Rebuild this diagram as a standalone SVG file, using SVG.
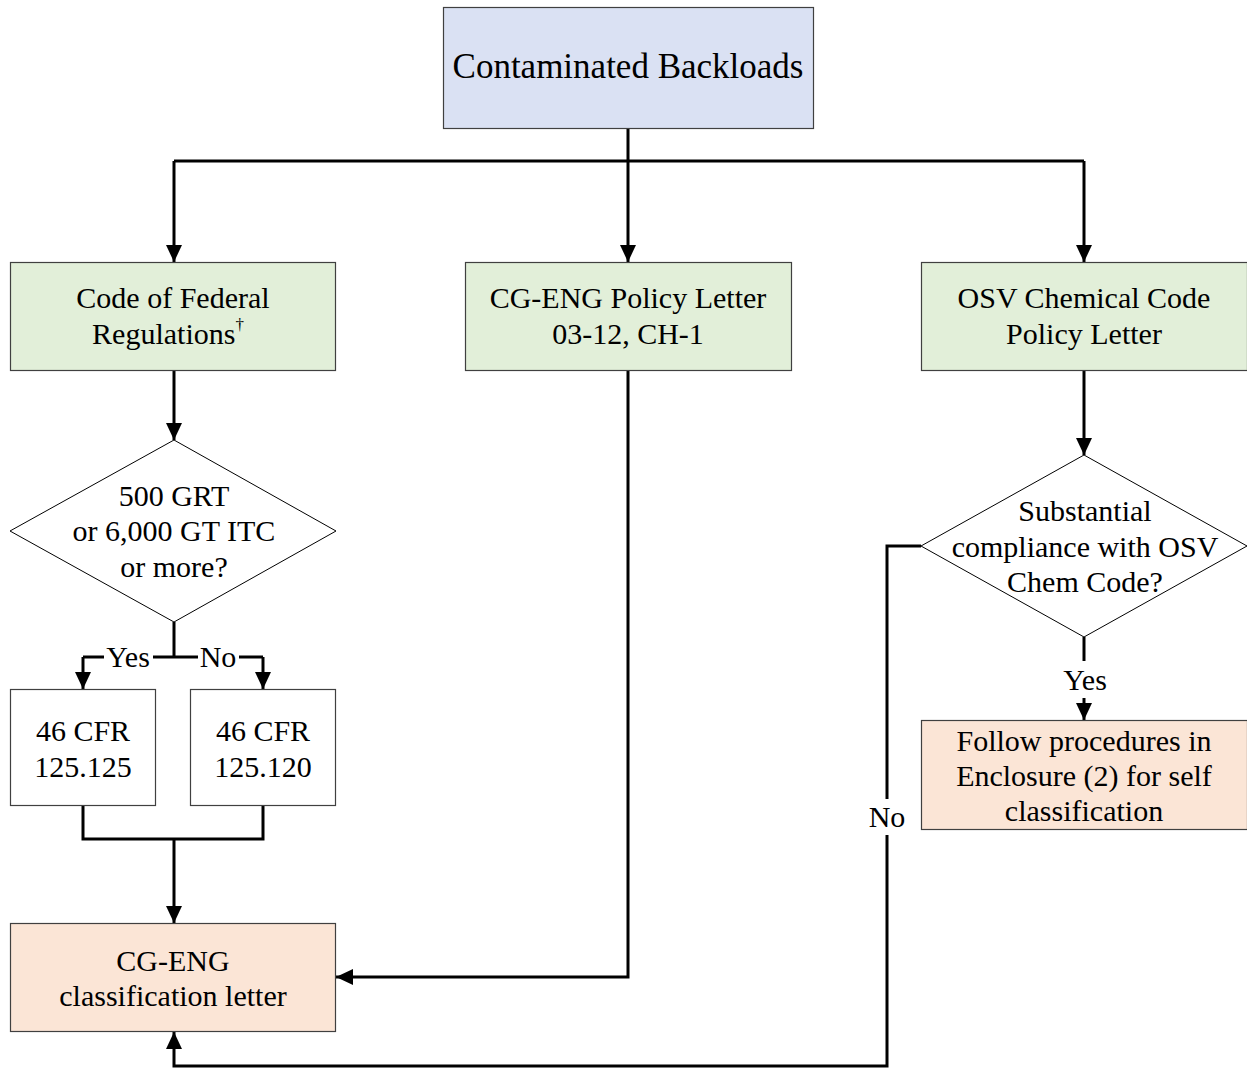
<svg xmlns="http://www.w3.org/2000/svg" width="1247" height="1068" viewBox="0 0 1247 1068">
<style>
text{font-family:"Liberation Serif","Times New Roman",serif;fill:#000;text-anchor:middle}
.big{font-size:35px}
.t{font-size:30px}
.box{stroke:#404040;stroke-width:1.2}
.blue{fill:#dae1f3}
.green{fill:#e2efd9}
.orange{fill:#fbe5d6}
.white{fill:#fff}
.c{fill:none;stroke:#000;stroke-width:3}
</style>
<defs>
<marker id="ah" markerUnits="userSpaceOnUse" markerWidth="18" markerHeight="18" viewBox="0 0 18 18" refX="17" refY="9" orient="auto">
<path d="M0,1 L17,9 L0,17 Z" fill="#000"/>
</marker>
</defs>
<rect width="1247" height="1068" fill="#fff"/>
<g id="connectors">
<path class="c" d="M628,129 V161 M174,161 H1084"/>
<path class="c" d="M174,161 V262" marker-end="url(#ah)"/>
<path class="c" d="M628,161 V262" marker-end="url(#ah)"/>
<path class="c" d="M1084,161 V262" marker-end="url(#ah)"/>
<path class="c" d="M174,371 V440" marker-end="url(#ah)"/>
<path class="c" d="M174,622 V657 M83,657 H263"/>
<path class="c" d="M83,657 V689" marker-end="url(#ah)"/>
<path class="c" d="M263,657 V689" marker-end="url(#ah)"/>
<rect x="104" y="643" width="49" height="28" fill="#fff"/>
<rect x="198" y="643" width="41" height="28" fill="#fff"/>
<text class="t" x="128" y="667">Yes</text>
<text class="t" x="218" y="667">No</text>
<path class="c" d="M83,806 V839 H263 V806 M174,839 V923" marker-end="url(#ah)"/>
<path class="c" d="M628,371 V977 H336" marker-end="url(#ah)"/>
<path class="c" d="M1084,371 V455" marker-end="url(#ah)"/>
<path class="c" d="M1084,637 V661"/>
<text class="t" x="1085" y="690">Yes</text>
<path class="c" d="M1084,698 V720" marker-end="url(#ah)"/>
<path class="c" d="M921,546 H887 V799 M887,835 V1066 H174 V1032" marker-end="url(#ah)"/>
<text class="t" x="887" y="827">No</text>
</g>
<g id="n-top">
<rect class="box blue" x="443.5" y="7.5" width="370" height="121"/>
<text class="big" x="628" y="78">Contaminated Backloads</text>
</g>
<g id="n-cfr">
<rect class="box green" x="10.5" y="262.5" width="325" height="108"/>
<text class="t" x="173" y="308">Code of Federal</text>
<text class="t" x="168" y="344">Regulations<tspan font-size="17" dy="-14">†</tspan></text>
</g>
<g id="n-policy">
<rect class="box green" x="465.5" y="262.5" width="326" height="108"/>
<text class="t" x="628" y="308">CG-ENG Policy Letter</text>
<text class="t" x="628" y="344">03-12, CH-1</text>
</g>
<g id="n-osv">
<rect class="box green" x="921.5" y="262.5" width="326" height="108"/>
<text class="t" x="1084" y="308">OSV Chemical Code</text>
<text class="t" x="1084" y="344">Policy Letter</text>
</g>
<g id="n-grt">
<polygon points="174,440 336,531 174,622 10,531" fill="#fff" stroke="#000" stroke-width="1"/>
<text class="t" x="174" y="506">500 GRT</text>
<text class="t" x="174" y="541">or 6,000 GT ITC</text>
<text class="t" x="174" y="577">or more?</text>
</g>
<g id="n-125125">
<rect class="box white" x="10.5" y="689.5" width="145" height="116"/>
<text class="t" x="83" y="741">46 CFR</text>
<text class="t" x="83" y="777">125.125</text>
</g>
<g id="n-125120">
<rect class="box white" x="190.5" y="689.5" width="145" height="116"/>
<text class="t" x="263" y="741">46 CFR</text>
<text class="t" x="263" y="777">125.120</text>
</g>
<g id="n-letter">
<rect class="box orange" x="10.5" y="923.5" width="325" height="108"/>
<text class="t" x="173" y="971">CG-ENG</text>
<text class="t" x="173" y="1006">classification letter</text>
</g>
<g id="n-osvq">
<polygon points="1084,455 1247,546 1084,637 921,546" fill="#fff" stroke="#000" stroke-width="1"/>
<text class="t" x="1085" y="521">Substantial</text>
<text class="t" x="1085" y="557">compliance with OSV</text>
<text class="t" x="1085" y="592">Chem Code?</text>
</g>
<g id="n-follow">
<rect class="box orange" x="921.5" y="720.5" width="326" height="109"/>
<text class="t" x="1084" y="751">Follow procedures in</text>
<text class="t" x="1084" y="786">Enclosure (2) for self</text>
<text class="t" x="1084" y="821">classification</text>
</g>
</svg>
